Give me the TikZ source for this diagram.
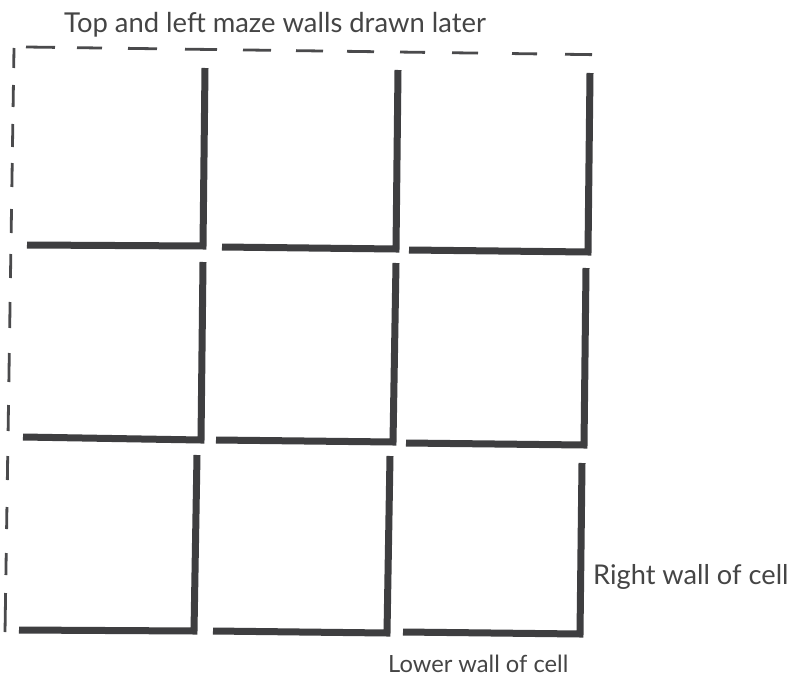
\documentclass[tikz,border=0pt]{standalone}
\usepackage{fontspec}
\setmainfont{Lato}
\definecolor{wallgray}{HTML}{3E3E40}
\definecolor{dashgray}{HTML}{4A4A4C}
\definecolor{textgray}{HTML}{454545}
\begin{document}
\begin{tikzpicture}[x=1pt,y=-1pt,
  wall/.style={line width=7pt, draw=wallgray, line join=miter, line cap=butt},
  dashwall/.style={line width=2.8pt, draw=dashgray, line cap=butt},
  lbl/.style={inner sep=0pt, text=textgray, anchor=base west}]
\useasboundingbox (0,0) rectangle (794,679);
\fill[white] (0,0) rectangle (794,679);
% title
\node[lbl, font=\fontsize{27.4}{31}\selectfont] (title) at (64,33) {Top and left maze walls drawn later};
% dashed top wall
\foreach \a/\b in {26/55,77/102,128/157,185/217,243/271,296/323,347/374,400/425,452/478,512/537,565/592}
  \draw[dashwall] ({\a},{47+(\a-26)*0.0135}) -- ({\b},{47+(\b-26)*0.0135});
% dashed left wall
\foreach \a/\b in {48/68,85/107,124/147,163/187,209/233,254/278,302/328,353/382,405/431,456/480,507/529,553/575,593/632}
  \draw[dashwall] ({14-(\a-48)*0.0154},{\a}) -- ({14-(\b-48)*0.0154},{\b});
% cells: lower wall and right wall
\draw[wall] (27,245) -- (203,246) -- (205,68);
\draw[wall] (222,247) -- (396,249) -- (398,70);
\draw[wall] (409,250) -- (588,252) -- (590,73);
\draw[wall] (23,437) -- (201,440) -- (203,262);
\draw[wall] (216,440) -- (393,442) -- (396,263);
\draw[wall] (406,443) -- (584,445) -- (586,268);
\draw[wall] (19,630) -- (194,631) -- (197,455);
\draw[wall] (213,631) -- (387,633) -- (390,456);
\draw[wall] (403,632) -- (580,634) -- (582,463);
% labels
\node[lbl, font=\fontsize{27.2}{31}\selectfont] (rightlbl) at (593,584) {Right wall of cell};
\node[lbl, font=\fontsize{23.7}{28}\selectfont] (lowerlbl) at (388,672) {Lower wall of cell};
\end{tikzpicture}
\end{document}
